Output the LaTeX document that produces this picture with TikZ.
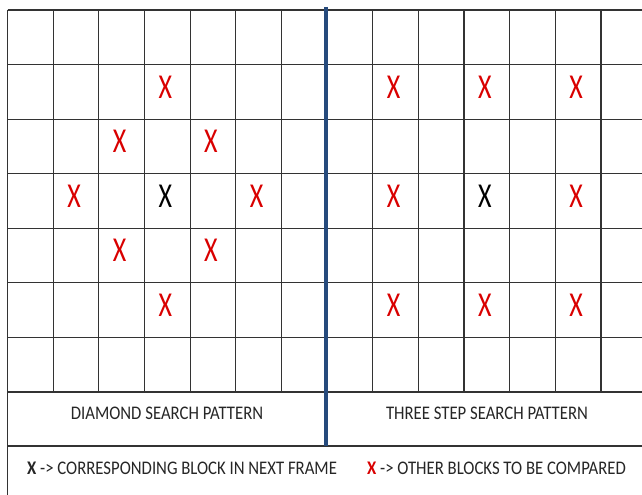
\documentclass[tikz,border=0pt]{standalone}
\usepackage{fontspec}
\setmainfont{Carlito}
\begin{document}
\begin{tikzpicture}[x=1bp,y=-1bp,
  gridline/.style={draw=black!80,line width=1.1bp},
  xmark/.style={font=\fontsize{26}{26}\selectfont,inner sep=0pt,yscale=1.35,transform shape},
  redx/.style={xmark,text=red!85!black},
  blackx/.style={xmark,text=black},
  label/.style={font=\fontsize{16.8}{17}\selectfont,inner sep=0pt,text=black!85,yscale=1.15,transform shape}]
\useasboundingbox (0,0) rectangle (642,495);
\fill[white] (0,0) rectangle (642,495);
\def\cw{45.65}
\def\rh{54.57}
% vertical grid lines
\foreach \k in {1,...,13}{
  \draw[gridline] ({7.5+\k*\cw},10) -- ({7.5+\k*\cw},392);
}
\draw[gridline] (7.5,10) -- (7.5,495);
% horizontal grid lines
\foreach \j in {0,...,7}{
  \draw[gridline] (7.5,{10+\j*\rh}) -- (642,{10+\j*\rh});
}
\draw[gridline] (7.5,446) -- (642,446);
% divider
\draw[line width=3.6bp,draw={rgb,255:red,38;green,74;blue,124}] (326,7) -- (326,446);
% diamond pattern
\foreach \c/\r/\n in {3/1/d1,2/2/d2,4/2/d3,1/3/d4,5/3/d5,2/4/d6,4/4/d7,3/5/d8}{
  \node[redx] (\n) at ({7.5+(\c+0.5)*\cw-2},{10+(\r+0.5)*\rh-5}) {X};
}
\node[blackx] (dc) at ({7.5+3.5*\cw-2},{10+3.5*\rh-5}) {X};
% three step pattern
\foreach \c/\r/\n in {8/1/t1,10/1/t2,12/1/t3,8/3/t4,12/3/t5,8/5/t6,10/5/t7,12/5/t8}{
  \node[redx] (\n) at ({7.5+(\c+0.5)*\cw-2},{10+(\r+0.5)*\rh-5}) {X};
}
\node[blackx] (tc) at ({7.5+10.5*\cw-2},{10+3.5*\rh-5}) {X};
% labels
\node[label] (dl) at (167,413) {DIAMOND SEARCH PATTERN};
\node[label] (tl) at (487,413) {THREE STEP SEARCH PATTERN};
\node[label,anchor=west] (lg1) at (27,468) {\textbf{X} -> CORRESPONDING BLOCK IN NEXT FRAME};
\node[label,anchor=west] (lg2) at (367,468) {\textcolor{red!85!black}{\textbf{X}} -> OTHER BLOCKS TO BE COMPARED};
\end{tikzpicture}
\end{document}
